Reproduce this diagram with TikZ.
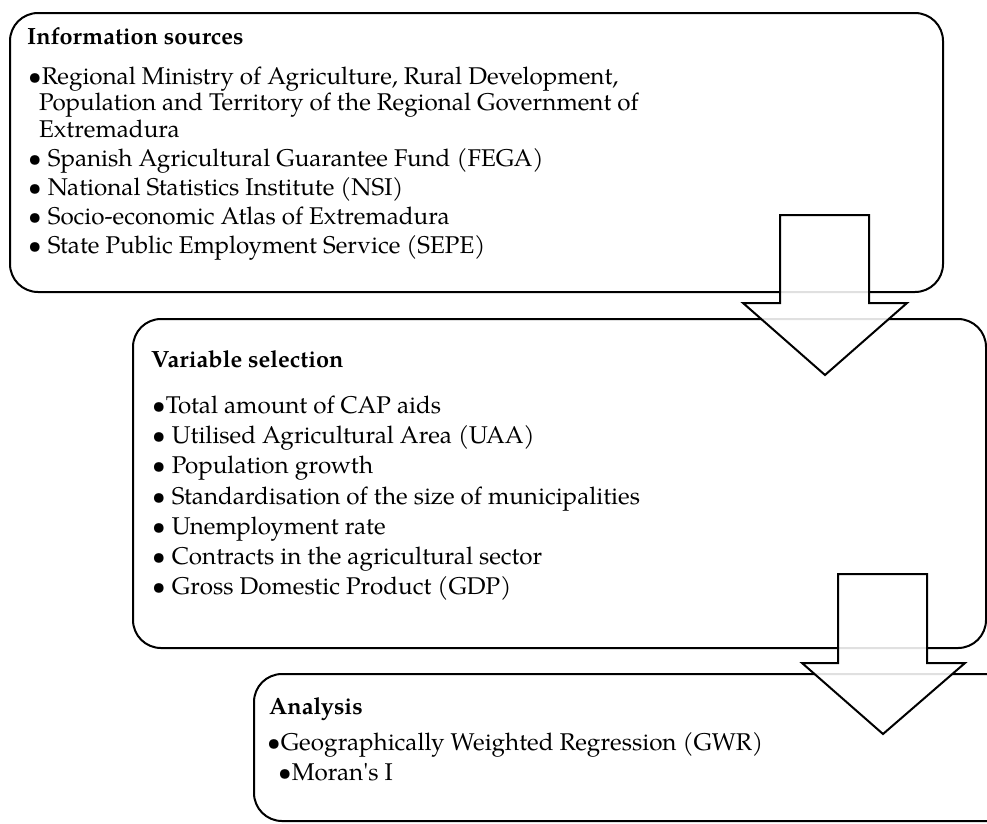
\documentclass[tikz,border=0pt]{standalone}
\usepackage{fontspec}
\setmainfont{texgyrepagella}[Extension=.otf, UprightFont=*-regular, BoldFont=*-bold, ItalicFont=*-italic, BoldItalicFont=*-bolditalic]
\begin{document}
\begin{tikzpicture}[x=1pt,y=-1pt,
  box/.style={draw=black, line width=2pt, rounded corners=28pt, fill=white},
  blockarrow/.style={draw=black, line width=2pt, fill=white, fill opacity=0.88, line join=miter},
  ttl/.style={anchor=base west, inner sep=0pt, font=\fontsize{23.5}{28}\selectfont\bfseries},
  txt/.style={anchor=base west, inner sep=0pt, font=\fontsize{24.2}{28}\selectfont}]
\useasboundingbox (0,0) rectangle (987,823);
\clip (0,0) rectangle (987,823);
% boxes
\draw[box] (10,13) rectangle (943,292);
\draw[box] (133,319) rectangle (986,648);
\draw[box] (254,674) rectangle (1030,821);
% box 1 text
\node[ttl] (t1) at (27,44) {Information sources};
\node[txt] (a1) at (28,84) {\textbullet Regional Ministry of Agriculture, Rural Development,};
\node[txt] (a1b) at (39,110) {Population and Territory of the Regional Government of};
\node[txt] (a1c) at (39,137) {Extremadura};
\node[txt] (a2) at (28,166) {\textbullet{} Spanish Agricultural Guarantee Fund (FEGA)};
\node[txt] (a3) at (28,195) {\textbullet{} National Statistics Institute (NSI)};
\node[txt] (a4) at (28,224) {\textbullet{} Socio-economic Atlas of Extremadura};
\node[txt] (a5) at (28,253) {\textbullet{} State Public Employment Service (SEPE)};
% box 2 text
\node[ttl] (t2) at (151,367) {Variable selection};
\node[txt] (b1) at (152,413) {\textbullet Total amount of CAP aids};
\node[txt] (b2) at (152,443) {\textbullet{} Utilised Agricultural Area (UAA)};
\node[txt] (b3) at (152,473) {\textbullet{} Population growth};
\node[txt] (b4) at (152,504) {\textbullet{} Standardisation of the size of municipalities};
\node[txt] (b5) at (152,534) {\textbullet{} Unemployment rate};
\node[txt] (b6) at (152,564) {\textbullet{} Contracts in the agricultural sector};
\node[txt] (b7) at (152,594) {\textbullet{} Gross Domestic Product (GDP)};
% box 3 text
\node[ttl] (t3) at (269,714) {Analysis};
\node[txt] (c1) at (267,750) {\textbullet Geographically Weighted Regression (GWR)};
\node[txt] (c2) at (278,780) {\textbullet Moran\textquotesingle s I};
% block arrows
\draw[blockarrow] (780,215) -- (869,215) -- (869,303) -- (907,303) -- (825,375) -- (743,303) -- (780,303) -- cycle;
\draw[blockarrow] (838,574) -- (927,574) -- (927,663) -- (965,663) -- (883,734) -- (802,663) -- (838,663) -- cycle;
\end{tikzpicture}
\end{document}
